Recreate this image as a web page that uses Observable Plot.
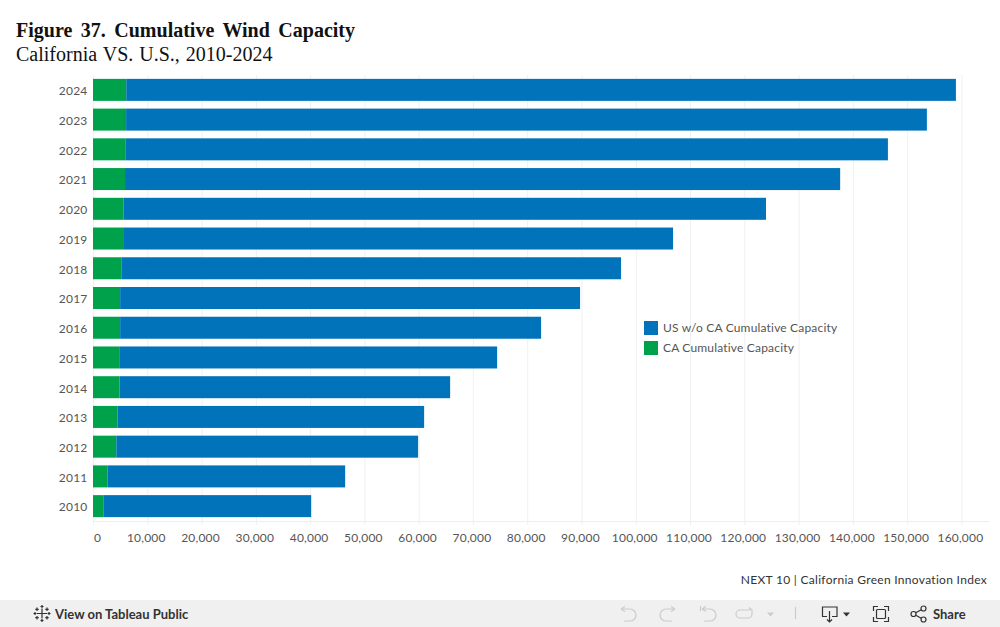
<!DOCTYPE html>
<html><head><meta charset="utf-8">
<script src="https://cdn.jsdelivr.net/npm/d3@7"></script>
<script src="https://cdn.jsdelivr.net/npm/@observablehq/plot@0.6"></script>
<style>
html,body{margin:0;padding:0;background:#fff;width:1000px;height:627px;overflow:hidden}
body{position:relative;font-family:Lato,sans-serif}
#head{position:absolute;left:16px;top:18px;font-family:"Liberation Serif",serif;color:#111;font-size:20px;line-height:24px;white-space:nowrap}
#head .t{font-weight:bold;word-spacing:3.5px}
#head .s{word-spacing:1px}
#chart{position:absolute;left:0;top:68px}
#chart svg{display:block}
.lg{position:absolute;left:644px;font-size:12px;color:#555;line-height:14px;white-space:nowrap;letter-spacing:.18px}
.lg i{display:inline-block;width:14px;height:14px;margin-right:5px;vertical-align:top}
#cap{position:absolute;right:13px;top:572px;font-size:12px;line-height:16px;color:#333;letter-spacing:.3px;white-space:nowrap}
#bar{position:absolute;left:0;top:600px;width:1000px;height:27px;background:#f0f0f0;color:#333;font-size:13px;font-weight:bold}
#bar span{position:absolute;top:6px;line-height:16px;white-space:nowrap}
#bar svg{position:absolute;left:0;top:0}
</style></head><body>
<div id="head"><div class="t">Figure 37. Cumulative Wind Capacity</div><div class="s">California VS. U.S., 2010-2024</div></div>
<div id="chart"></div>
<div class="lg" style="top:321px"><i style="background:#0173BB"></i>US w/o CA Cumulative Capacity</div>
<div class="lg" style="top:341px"><i style="background:#00A14B"></i>CA Cumulative Capacity</div>
<div id="cap">NEXT 10 | California Green Innovation Index</div>
<div id="bar">
<svg width="1000" height="27" fill="none" stroke-width="1.2">
 <g stroke="#333">
  <path d="M42 8.500V18.500M37 13.500H47"/>
  <path d="M42 5V8M40.500 6.500H43.500M42 19V22M40.500 20.500H43.500M33.500 13.500H36.500M35 12V15M47.500 13.500H50.500M49 12V15"/>
  <path d="M37 7.500V11M35.300 9.300H38.700M47 7.500V11M45.300 9.300H48.700M37 16V19.500M35.300 17.700H38.700M47 16V19.500M45.300 17.700H48.700"/>
 </g>
 <g stroke="#cccccc">
  <path d="M621 9H630A6 6 0 0 1 630 21H624M621 9L625 6.500M621 9L625 11.500"/>
  <path d="M675 9H666A6 6 0 0 0 666 21H672M675 9L671 6.500M675 9L671 11.500"/>
  <path d="M700.500 6V11M702 9H710A6 6 0 0 1 710 21H704M702 9L706 6.500M702 9L706 11.500"/>
  <path d="M752 11V14A4 4 0 0 1 748 18H740A4 4 0 0 1 740 10H752L749 7.500"/>
  <path d="M767 12.500H774L770.500 16.500Z" fill="#cccccc" stroke="none"/>
  <path d="M795.500 7V19"/>
 </g>
 <g stroke="#333">
  <path d="M827 16.500H822.500V7H837V16.500H832M829.500 11V22M827 19.500L829.500 22L832 19.500"/>
  <path d="M843 12.500H850L846.500 16.500Z" fill="#333" stroke="none"/>
  <path d="M873.500 11V6.500H878M884 6.500H888.500V11M888.500 17V21.500H884M878 21.500H873.500V17"/>
  <rect x="876.500" y="9.500" width="9" height="9" rx="1"/>
  <circle cx="913.500" cy="14" r="2.500"/><circle cx="923.500" cy="8.500" r="2.500"/><circle cx="923.500" cy="19.500" r="2.500"/>
  <path d="M915.700 12.800L921.300 9.700M915.700 15.200L921.300 18.300"/>
 </g>
</svg>
<span style="left:55px">View on Tableau Public</span>
<span style="left:933px">Share</span>
</div>
<script>
const years = ["2024","2023","2022","2021","2020","2019","2018","2017","2016","2015","2014","2013","2012","2011","2010"];
const caCapacity = [6130,6100,5950,5900,5600,5550,5300,5000,5000,4950,4900,4500,4300,2700,1900];
const usWithoutCa = [152860,147540,140510,131760,118400,101320,91990,84740,77560,69510,60900,56510,55600,43760,38300];
const seriesNames = ["CA Cumulative Capacity","US w/o CA Cumulative Capacity"];
const seriesColors = ["#00A14B","#0173BB"];
const xTicks = [10000,20000,30000,40000,50000,60000,70000,80000,90000,100000,110000,120000,130000,140000,150000,160000];

const rows = years.flatMap((y,i)=>[
  {year:y,series:seriesNames[0],value:caCapacity[i]},
  {year:y,series:seriesNames[1],value:usWithoutCa[i]}
]);
const tickFont = {fontSize:12, fill:"#555"};
const plot = Plot.plot({
  width:1000,height:500,
  marginTop:7,marginBottom:47,marginLeft:93,marginRight:12,
  style:{fontFamily:"Lato, sans-serif",fontSize:"12px",background:"transparent",letterSpacing:"0.2px"},
  x:{domain:[0,164900],label:null},
  y:{domain:years,round:false,paddingInner:0.26,paddingOuter:0.13,label:null},
  color:{domain:seriesNames,range:seriesColors},
  marks:[
    Plot.ruleX([0,...xTicks],{stroke:"#f0f0f0",insetBottom:-4}),
    Plot.frame({anchor:"bottom",stroke:"#eeeeee"}),
    Plot.barX(rows,Plot.stackX({x:"value",y:"year",fill:"series",order:seriesNames})),
    Plot.axisY({tickSize:0,tickPadding:6,label:null,dy:1,...tickFont}),
    Plot.axisX(xTicks,{tickSize:0,tickPadding:12,label:null,dx:-1.5,tickFormat:d3.format(","),...tickFont}),
    Plot.axisX([0],{tickSize:0,tickPadding:12,label:null,dx:4,tickFormat:d3.format(","),...tickFont})
  ]
});
document.getElementById("chart").appendChild(plot);
</script>
</body></html>
